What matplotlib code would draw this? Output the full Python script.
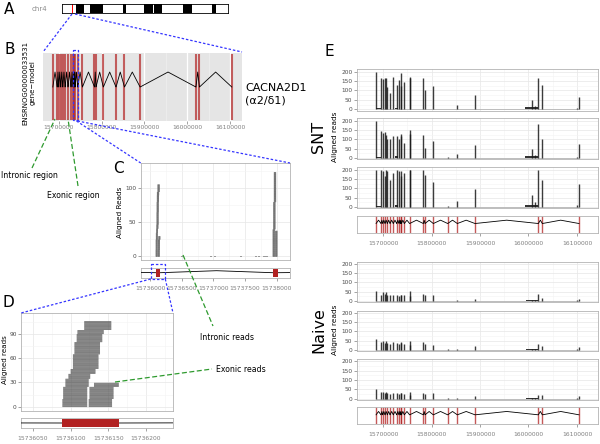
import matplotlib
matplotlib.use("Agg")
import matplotlib.pyplot as plt
from matplotlib.patches import Rectangle
from matplotlib.ticker import MultipleLocator, FuncFormatter

plt.rcParams['font.family'] = ['DejaVu Sans']

W, H = 600, 444

# ---- panel A: chromosome 4 ideogram (Mb) ----
chrom_len = 187.0
band_starts = [15.8, 31.6, 68.7, 92.4, 103.6, 136.4, 169.0]
band_ends = [24.8, 46.2, 71.6, 102.6, 112.7, 146.5, 173.0]
highlight = [11.3, 12.4]

# ---- gene model of CACNA2D1 (bp) ----
exon_starts = [15685600, 15695900, 15699400, 15704100, 15708900, 15714400,
               15721200, 15728200, 15733000, 15736088, 15737935, 15743900,
               15754800, 15783100, 15786600, 15803700, 15833400, 15853200,
               15889700, 16020200, 16028500, 16104100]
exon_lens = [120, 90, 110, 100, 95, 130, 85, 105, 115, 76, 82, 100,
             150, 110, 95, 140, 90, 100, 160, 130, 110, 300]

# ---- panel E coverage peaks ----
cov_pos = [15685700, 15696000, 15699500, 15704200, 15706500, 15709000,
           15714500, 15721300, 15728300, 15733100, 15736120, 15737970,
           15743950, 15754900, 15756300, 15783200, 15786700, 15803800,
           15833500, 15853300, 15889800, 16007800, 16013000, 16020300,
           16028600, 16100000, 16104200]
snt1 = [200, 165, 160, 165, 165, 120, 85, 170, 130, 155, 125, 190, 145, 170,
        165, 165, 105, 125, 4, 25, 75, 50, 20, 165, 130, 8, 65]
snt2 = [200, 142, 133, 140, 125, 100, 100, 115, 120, 100, 115, 127, 80, 130,
        148, 125, 55, 90, 3, 20, 72, 48, 15, 183, 100, 6, 75]
snt3 = [200, 200, 190, 165, 200, 190, 145, 180, 200, 190, 165, 190, 180, 200,
        200, 195, 170, 135, 4, 33, 98, 65, 25, 200, 145, 8, 125]
naive1 = [53, 30, 50, 40, 50, 35, 30, 35, 30, 25, 35, 30, 30, 55, 25, 40, 35,
          30, 2, 5, 12, 8, 5, 36, 18, 4, 10]
naive2 = [60, 40, 45, 35, 45, 35, 30, 40, 35, 30, 40, 35, 30, 50, 25, 42, 30,
          27, 2, 5, 18, 6, 5, 30, 18, 4, 15]
naive3 = [50, 35, 38, 32, 35, 30, 25, 30, 28, 25, 30, 28, 25, 35, 20, 32, 25,
          30, 2, 4, 14, 5, 4, 22, 20, 4, 14]
snt_low = [(15686000, 15695500, 5), (15725000, 15730000, 8), (15992000, 16019000, 12)]
naive_low = [(15995000, 16019000, 4)]

# ---- panel C/D reads: (number of reads, start, end) ----
exon1_reads = [(10, 15736089, 15736122), (15, 15736090, 15736122),
               (10, 15736093, 15736124), (6, 15736097, 15736126),
               (6, 15736100, 15736133), (18, 15736103, 15736137),
               (15, 15736105, 15736139), (10, 15736108, 15736142),
               (5, 15736109, 15736144), (11, 15736118, 15736154)]
exon1_side_reads = [(10, 15736124, 15736155), (15, 15736125, 15736157),
                    (5, 15736131, 15736164)]
exon2_reads = [(40, 15737936, 15737972), (40, 15737945, 15737981),
               (44, 15737955, 15737991)]
exon2_side_reads = [(38, 15737975, 15738012)]
intron_read_starts = [15736485, 15736950, 15737010, 15737420, 15737660,
                      15737705, 15737790, 15737830]
read_len = 36

fig = plt.figure(figsize=(6, 4.44), dpi=100)
fmt = FuncFormatter(lambda v, p: '%d' % v)
XT = 4.3   # x tick label size
YT = 4.2   # y tick label size


def px_axes(x0, y0, x1, y1):
    return fig.add_axes([x0 / W, 1 - y1 / H, (x1 - x0) / W, (y1 - y0) / H])


def bw(ax, grid=True):
    ax.set_facecolor('white')
    for sp in ax.spines.values():
        sp.set_color('#b3b3b3')
        sp.set_linewidth(0.6)
    if grid:
        ax.grid(True, which='major', color='#e6e6e6', lw=0.5)
        ax.grid(True, which='minor', color='#f3f3f3', lw=0.4)
        ax.set_axisbelow(True)
    ax.tick_params(which='both', length=2, width=0.5, color='#7f7f7f',
                   labelsize=YT, labelcolor='#4d4d4d', pad=1)
    ax.tick_params(axis='x', labelsize=XT, labelcolor='#7f7f7f')
    ax.tick_params(which='minor', length=0)


def introns(ax, lo, hi):
    xs, ys = [], []
    for i in range(len(exon_starts) - 1):
        a = exon_starts[i] + exon_lens[i]
        b = exon_starts[i + 1]
        xs += [a, (a + b) / 2, b]
        ys += [lo, hi, lo]
    ax.plot(xs, ys, color='black', lw=0.6, zorder=3)


def stack_reads(ax, blocks, h, color='#4d4d4d'):
    row = 0
    for n, s, e in blocks:
        for k in range(n):
            bars = ax.barh(row, e - s, left=s, height=h, color=color, lw=0)
            for b in bars:
                b.set_snap(False)
            row += 1


# ---------------- A ----------------
axA = px_axes(62, 4, 228, 13)
axA.set_xlim(0, chrom_len)
axA.set_ylim(0, 1)
for s, e in zip(band_starts, band_ends):
    axA.axvspan(s, e, color='black', lw=0)
axA.axvspan(highlight[0], highlight[1], color='red', lw=0)
axA.set_xticks([])
axA.set_yticks([])
for sp in axA.spines.values():
    sp.set_linewidth(0.6)

# ---------------- B ----------------
axB = px_axes(43, 53, 242, 121)
axB.set_facecolor('#e5e5e5')
axB.set_xlim(15662700, 16128000)
axB.set_ylim(0, 1)
axB.xaxis.set_major_locator(MultipleLocator(100000))
axB.xaxis.set_minor_locator(MultipleLocator(50000))
axB.xaxis.set_major_formatter(fmt)
axB.grid(True, which='major', axis='x', color='white', lw=0.9)
axB.grid(True, which='minor', axis='x', color='#f0f0f0', lw=0.5)
axB.set_axisbelow(True)
for sp in axB.spines.values():
    sp.set_visible(False)
axB.set_yticks([])
axB.tick_params(axis='x', length=2, width=0.5, color='#7f7f7f',
                labelsize=XT, labelcolor='#7f7f7f', pad=1)
axB.tick_params(which='minor', length=0)
axB.vlines(exon_starts, 0.02, 0.98, color='#b22222', lw=1.5, alpha=0.7, zorder=2)
introns(axB, 0.5, 0.72)

# ---------------- C ----------------
axC = px_axes(140.7, 163, 290, 260)
axC.set_xlim(15735853, 15738210)
axC.set_ylim(-5.4, 137)
bw(axC)
axC.xaxis.set_major_locator(MultipleLocator(500))
axC.xaxis.set_minor_locator(MultipleLocator(250))
axC.yaxis.set_major_locator(MultipleLocator(50))
axC.yaxis.set_minor_locator(MultipleLocator(25))
axC.tick_params(axis='x', length=0, labelbottom=False)
stack_reads(axC, exon1_reads, 1.0)
stack_reads(axC, exon1_side_reads, 1.0)
stack_reads(axC, exon2_reads, 1.0)
stack_reads(axC, exon2_side_reads, 1.0)
axC.barh([0] * len(intron_read_starts), [read_len] * len(intron_read_starts),
         left=intron_read_starts, height=1.8, color='#9a9a9a', lw=0)

axCm = px_axes(140.7, 267.7, 290, 277.7)
axCm.set_xlim(15735853, 15738210)
axCm.set_ylim(0, 1)
bw(axCm, grid=False)
axCm.set_yticks([])
axCm.xaxis.set_major_locator(MultipleLocator(500))
axCm.xaxis.set_major_formatter(fmt)
axCm.tick_params(axis='x', pad=4)
introns(axCm, 0.5, 0.7)
for s, n in zip(exon_starts, exon_lens):
    axCm.add_patch(Rectangle((s, 0.08), n, 0.84, color='#b22222', lw=0, zorder=4))

# ---------------- D ----------------
axD = px_axes(21, 313, 173, 411)
axD.set_xlim(15736034, 15736236)
axD.set_ylim(-5.3, 115.5)
bw(axD)
axD.xaxis.set_major_locator(MultipleLocator(50))
axD.xaxis.set_minor_locator(MultipleLocator(25))
axD.yaxis.set_major_locator(MultipleLocator(30))
axD.yaxis.set_minor_locator(MultipleLocator(15))
axD.tick_params(axis='x', length=0, labelbottom=False)
stack_reads(axD, exon1_reads, 0.85, color='#555555')
stack_reads(axD, exon1_side_reads, 0.85, color='#555555')

axDm = px_axes(21, 418, 173, 428)
axDm.set_xlim(15736034, 15736236)
axDm.set_ylim(0, 1)
bw(axDm, grid=False)
axDm.set_yticks([])
axDm.xaxis.set_major_locator(MultipleLocator(50))
axDm.xaxis.set_major_formatter(fmt)
axDm.tick_params(axis='x', pad=4)
introns(axDm, 0.5, 0.65)
for s, n in zip(exon_starts, exon_lens):
    axDm.add_patch(Rectangle((s, 0.06), n, 0.88, color='#b22222', lw=0, zorder=4))

# ---------------- E ----------------
E_X0, E_X1 = 356.5, 598
E_LIM = (15645360, 16143300)


def e_track(y0, y1, heights, low):
    ax = px_axes(E_X0, y0, E_X1, y1)
    ax.set_xlim(*E_LIM)
    ax.set_ylim(-7, 212)
    bw(ax)
    ax.xaxis.set_major_locator(MultipleLocator(100000))
    ax.xaxis.set_minor_locator(MultipleLocator(50000))
    ax.yaxis.set_major_locator(MultipleLocator(50))
    ax.yaxis.set_minor_locator(MultipleLocator(25))
    ax.tick_params(axis='x', length=0, labelbottom=False)
    ax.hlines(1, cov_pos[0], cov_pos[-1], color='#aaaaaa', lw=0.5)
    for s, e, h in low:
        ax.add_patch(Rectangle((s, 0), e - s, h, color='#333333', lw=0))
    ax.vlines(cov_pos, 0, heights, color='#1a1a1a', lw=1.0, alpha=0.85)
    return ax


def e_model(y0, y1):
    ax = px_axes(E_X0, y0, E_X1, y1)
    ax.set_xlim(*E_LIM)
    ax.set_ylim(0, 1)
    bw(ax, grid=False)
    ax.set_yticks([])
    ax.xaxis.set_major_locator(MultipleLocator(100000))
    ax.xaxis.set_major_formatter(fmt)
    ax.tick_params(axis='x', pad=4)
    ax.vlines(exon_starts, 0, 1, color='#b22222', lw=1.0, alpha=0.75, zorder=2)
    introns(ax, 0.55, 0.75)
    return ax


for (y0, y1), h in zip([(69.3, 110.7), (118.3, 159.3), (167.3, 208.3)],
                       [snt1, snt2, snt3]):
    e_track(y0, y1, h, snt_low)
e_model(216, 232.7)
for (y0, y1), h in zip([(261.7, 302.3), (310.7, 351), (359, 400)],
                       [naive1, naive2, naive3]):
    e_track(y0, y1, h, naive_low)
e_model(407.3, 424)

# ---------------- annotations ----------------
ov = fig.add_axes([0, 0, 1, 1], zorder=20)
ov.set_xlim(0, W)
ov.set_ylim(H, 0)
ov.axis('off')
ov.patch.set_alpha(0)

blue = dict(color='#3535ff', lw=0.9, ls=(0, (2, 1.5)))
green = dict(color='#2e9a2e', lw=0.9, ls=(0, (4, 2)))

ov.plot([72, 43], [14, 52], **blue)
ov.plot([75, 242], [14, 52], **blue)
ov.add_patch(Rectangle((73.3, 50), 4.4, 70, fill=False, ec='#3535ff', lw=0.9, ls=(0, (2, 1.5))))
ov.plot([76.5, 140.7], [121, 163], **blue)
ov.plot([77.5, 290], [121, 163], **blue)
ov.add_patch(Rectangle((150.7, 263.7), 14.6, 15.3, fill=False, ec='#3535ff', lw=0.9, ls=(0, (2, 1.5))))
ov.plot([150.7, 21], [279, 313], **blue)
ov.plot([165.3, 173], [279, 313], **blue)

ov.plot([32, 55], [168, 119], **green)
ov.plot([78, 68], [186, 119], **green)
ov.plot([183, 213], [255, 326], **green)
ov.plot([115, 212], [382, 369], **green)

ov.text(1, 175, 'Intronic region', fontsize=5.6, va='center', ha='left')
ov.text(47, 195, 'Exonic region', fontsize=5.6, va='center', ha='left')
ov.text(200, 337.5, 'Intronic reads', fontsize=5.6, va='center', ha='left')
ov.text(216, 369.5, 'Exonic reads', fontsize=5.6, va='center', ha='left')

ov.text(4, 9, 'A', fontsize=11, va='center', ha='left')
ov.text(4, 50, 'B', fontsize=11, va='center', ha='left')
ov.text(113, 168, 'C', fontsize=11, va='center', ha='left')
ov.text(3, 302, 'D', fontsize=11, va='center', ha='left')
ov.text(325, 51, 'E', fontsize=11, va='center', ha='left')

ov.text(47, 9, 'chr4', fontsize=5, color='#8c8c8c', va='center', ha='right')
ov.text(29, 83, 'ENSRNOG00000033531\ngene\u2212model', fontsize=5.0,
        rotation=90, va='center', ha='center', multialignment='center')
ov.text(245, 94, 'CACNA2D1\n(\u03b12/\u03b41)', fontsize=8, va='center', ha='left',
        linespacing=1.35)
ov.text(120, 212, 'Aligned Reads', fontsize=5.2, rotation=90, va='center', ha='center')
ov.text(5, 360, 'Aligned reads', fontsize=5.1, rotation=90, va='center', ha='center')

ov.text(319, 137, 'SNT', fontsize=11.5, rotation=90, va='center', ha='center')
ov.text(335, 137, 'Aligned reads', fontsize=5.3, rotation=90, va='center', ha='center')
ov.text(319, 330, 'Naive', fontsize=11.5, rotation=90, va='center', ha='center')
ov.text(335, 330, 'Aligned reads', fontsize=5.3, rotation=90, va='center', ha='center')

fig.savefig('out.png', dpi=100)
